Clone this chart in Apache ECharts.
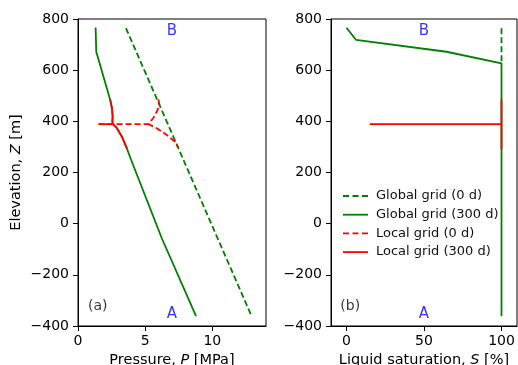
<!DOCTYPE html>
<html>
<head>
<meta charset="utf-8">
<script src="https://cdn.jsdelivr.net/npm/echarts@6/dist/echarts.min.js"></script>
<style>
html,body{margin:0;padding:0;background:#fff;}
#chart{width:518px;height:365px;}
</style>
</head>
<body>
<div id="chart"></div>
<script>
// ---------- Panel (a): pressure profiles ----------
const globalInitP = [3.57, 6.60, 9.92, 12.88];
const globalInitZ = [764, 400, 0, -356];

const global300P = [1.31, 1.36, 2.40, 2.53, 2.58, 2.56, 2.60, 2.90, 3.27, 3.64, 3.96, 6.24, 8.79];
const global300Z = [767, 672, 483, 451, 418, 398, 389, 373, 340, 294, 249, -57, -361];

const localInitVertP = [5.99, 6.06, 5.92, 5.62, 5.25, 5.87, 6.61, 7.23, 7.47];
const localInitVertZ = [486, 464, 444, 414, 389, 373, 347, 320, 297];
const localInitHorP = [1.53, 5.25];
const localInitHorZ = [389, 389];

const local300VertP = [2.40, 2.53, 2.58, 2.56, 2.60, 2.90, 3.27, 3.64];
const local300VertZ = [486, 451, 418, 398, 389, 373, 340, 294];
const local300HorP = [1.53, 2.60];
const local300HorZ = [389, 389];

// ---------- Panel (b): liquid saturation profiles (visible parts) ----------
const globalInitS = [100, 100];
const globalInitSZ = [764, 627];

const global300S = [0, 6.2, 64.5, 100, 100];
const global300SZ = [766, 718, 672, 627, -362];

const local300VertS = [100, 100];
const local300VertSZ = [486, 290];
const local300HorS = [15, 100];
const local300HorSZ = [389, 389];

// ---------- Axes ----------
const pressureTicks = [0, 5, 10];
const saturationTicks = [0, 50, 100];
const legendNames = ['Global grid (0 d)', 'Global grid (300 d)', 'Local grid (0 d)', 'Local grid (300 d)'];

// annotations: [panel, x, z, text, align]
const annotations = [
  [0, 7.0, 754, 'B', 'center'],
  [0, 7.0, -353, 'A', 'center'],
  [0, 0.75, -325, '(a)', 'left'],
  [1, 50, 754, 'B', 'center'],
  [1, 50, -353, 'A', 'center'],
  [1, -4, -325, '(b)', 'left']
];

const zip = (xs, ys) => xs.map((x, i) => [x, ys[i]]);
const GREEN = '#008000', RED = '#ff0000', BLUE = '#0000ff';
const FONT = 'DejaVu Sans';
const LW = 1.8;
const DASH = [6, 3];

function lineSeries(name, panel, xs, ys, color, dashed, z) {
  return {
    type: 'line', name: name, xAxisIndex: panel, yAxisIndex: panel, z: z,
    data: zip(xs, ys), symbol: 'none', showSymbol: false, silent: true,
    animation: false,
    lineStyle: {color: color, width: LW, type: dashed ? DASH : 'solid'},
    itemStyle: {color: color}
  };
}

const series = [
  lineSeries(legendNames[0], 0, globalInitP, globalInitZ, GREEN, true, 2),
  lineSeries(legendNames[1], 0, global300P, global300Z, GREEN, false, 3),
  lineSeries(legendNames[2], 0, localInitVertP, localInitVertZ, RED, true, 4),
  lineSeries(legendNames[2], 0, localInitHorP, localInitHorZ, RED, true, 4),
  lineSeries(legendNames[3], 0, local300VertP, local300VertZ, RED, false, 5),
  lineSeries(legendNames[3], 0, local300HorP, local300HorZ, RED, false, 5),
  lineSeries(legendNames[0], 1, globalInitS, globalInitSZ, GREEN, true, 2),
  lineSeries(legendNames[1], 1, global300S, global300SZ, GREEN, false, 3),
  lineSeries(legendNames[3], 1, local300VertS, local300VertSZ, RED, false, 5),
  lineSeries(legendNames[3], 1, local300HorS, local300HorSZ, RED, false, 5)
];

annotations.forEach(a => {
  const isLetter = a[3].length === 1;
  series.push({
    type: 'scatter', xAxisIndex: a[0], yAxisIndex: a[0], silent: true, animation: false, z: 6,
    data: [[a[1], a[2]]], symbolSize: 1, itemStyle: {color: 'rgba(0,0,0,0)'},
    label: {
      show: true, position: 'inside', formatter: a[3], align: a[4], verticalAlign: 'middle',
      fontFamily: FONT, fontSize: isLetter ? 15 : 14, color: isLetter ? BLUE : '#000'
    }
  });
});

const tickLabel = {color: '#000', fontFamily: FONT, fontSize: 14};
const richName = {
  n: {fontFamily: FONT, fontSize: 14.5, color: '#000'},
  i: {fontFamily: FONT, fontSize: 14.5, color: '#000', fontStyle: 'italic'}
};
function xAxis(panel, min, max, ticks, nameParts) {
  return {
    type: 'value', gridIndex: panel, min: min, max: max,
    axisLine: {show: true, onZero: false, lineStyle: {color: '#000', width: 1}},
    axisTick: {show: true, length: 5, inside: false, lineStyle: {color: '#000'}, customValues: ticks},
    axisLabel: Object.assign({margin: 8, customValues: ticks}, tickLabel),
    splitLine: {show: false},
    name: '{n|' + nameParts[0] + '}{i|' + nameParts[1] + '}{n|' + nameParts[2] + '}',
    nameLocation: 'middle', nameGap: 22,
    nameTextStyle: {rich: richName}
  };
}
function yAxis(panel, withName) {
  const ax = {
    type: 'value', gridIndex: panel, min: -400, max: 800, interval: 200,
    axisLine: {show: true, onZero: false, lineStyle: {color: '#000', width: 1}},
    axisTick: {show: true, length: 5, inside: false, lineStyle: {color: '#000'}},
    axisLabel: Object.assign({margin: 9, formatter: v => (v < 0 ? '\u2212' + Math.abs(v) : String(v))}, tickLabel),
    splitLine: {show: false}
  };
  if (withName) {
    ax.name = '{n|Elevation, }{i|Z}{n| [m]}';
    ax.nameLocation = 'middle';
    ax.nameGap = 54;
    ax.nameRotate = 90;
    ax.nameTextStyle = {rich: richName};
  }
  return ax;
}

const DASH_ICON = 'path://M0,0h6v1.8h-6zM9.5,0h6v1.8h-6zM19,0h6v1.8h-6z';
const SOLID_ICON = 'path://M0,0h25v1.8h-25z';

const chart = echarts.init(document.getElementById('chart'), null, {renderer: 'canvas'});
chart.setOption({
  backgroundColor: '#fff',
  animation: false,
  grid: [
    {left: 78, top: 19, width: 188, height: 307, show: true, borderColor: '#000', borderWidth: 1,
     backgroundColor: 'transparent', containLabel: false, outerBoundsMode: 'none'},
    {left: 331, top: 19, width: 186, height: 307, show: true, borderColor: '#000', borderWidth: 1,
     backgroundColor: 'transparent', containLabel: false, outerBoundsMode: 'none'}
  ],
  xAxis: [
    xAxis(0, 0, 14, pressureTicks, ['Pressure, ', 'P', ' [MPa]']),
    xAxis(1, -10, 110, saturationTicks, ['Liquid saturation, ', 'S', ' [%]'])
  ],
  yAxis: [yAxis(0, true), yAxis(1, false)],
  legend: {
    data: legendNames.map((n, i) => ({name: n, icon: i % 2 === 0 ? DASH_ICON : SOLID_ICON, itemStyle: {color: i < 2 ? GREEN : RED}})),
    orient: 'vertical', left: 338, top: 184,
    itemWidth: 25, itemHeight: 14, itemGap: 4.7,
    symbolKeepAspect: true,
    selectedMode: false,
    textStyle: {fontFamily: FONT, fontSize: 13, color: '#111', lineHeight: 14, padding: [0, 0, 0, 3]}
  },
  series: series
});
</script>
</body>
</html>
